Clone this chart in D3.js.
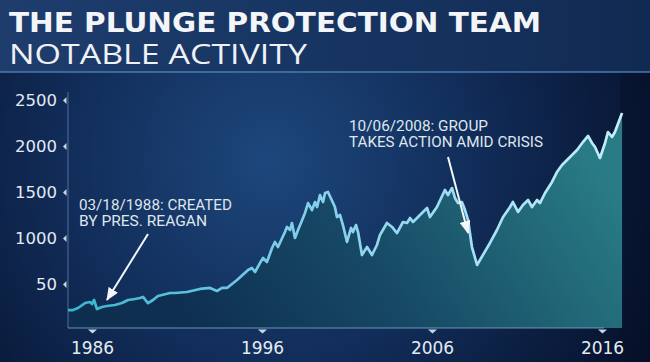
<!DOCTYPE html>
<html>
<head>
<meta charset="utf-8">
<script src="https://cdn.jsdelivr.net/npm/d3@7"></script>
<style>
  html, body { margin: 0; padding: 0; background: #0a1733; }
  svg { display: block; }
</style>
</head>
<body>
<svg id="chart" width="650" height="362"></svg>
<script>
// values (decimal years, index level)
const years = [
  1984.59, 1984.88, 1985.18, 1985.59, 1985.88, 1986.00, 1986.12, 1986.29, 1986.59, 1986.88,
  1987.35, 1987.76, 1988.12, 1988.53, 1988.82, 1989.00, 1989.29, 1989.59, 1989.88, 1990.59,
  1990.88, 1991.59, 1992.35, 1992.94, 1993.35, 1993.65, 1993.94, 1994.53, 1995.18, 1995.41,
  1995.59, 1995.88, 1996.06, 1996.29, 1996.59, 1996.76, 1996.94, 1997.35, 1997.47, 1997.65,
  1997.76, 1997.94, 1998.12, 1998.53, 1998.71, 1998.94, 1999.12, 1999.24, 1999.41, 1999.59,
  1999.71, 1999.88, 2000.29, 2000.41, 2000.59, 2000.76, 2001.00, 2001.24, 2001.35, 2001.53,
  2001.65, 2001.88, 2002.18, 2002.47, 2002.76, 2002.94, 2003.35, 2003.65, 2003.94, 2004.29,
  2004.53, 2004.71, 2004.88, 2005.12, 2005.41, 2005.71, 2005.88, 2006.29, 2006.76, 2006.94,
  2007.18, 2007.35, 2007.53, 2007.76, 2007.94, 2008.12, 2008.35, 2008.65, 2009.41, 2009.82,
  2010.18, 2010.59, 2010.76, 2011.06, 2011.35, 2011.65, 2011.88, 2012.18, 2012.35, 2012.65,
  2013.06, 2013.35, 2013.65, 2014.12, 2014.53, 2014.88, 2015.18, 2015.41, 2015.59, 2015.88,
  2016.18, 2016.35, 2016.59, 2016.76, 2017.18
];
const values = [
  217, 217, 239, 293, 304, 283, 326, 228, 250, 261,
  272, 293, 326, 337, 348, 359, 293, 326, 370, 402,
  402, 413, 446, 457, 424, 457, 457, 543, 652, 674,
  630, 728, 783, 739, 891, 957, 902, 1065, 1120, 1087,
  1163, 1000, 1087, 1272, 1380, 1304, 1391, 1337, 1467, 1391,
  1489, 1500, 1337, 1228, 1250, 1141, 957, 1109, 1065, 1141,
  1065, 815, 902, 815, 924, 1033, 1163, 1120, 1054, 1174,
  1163, 1217, 1174, 1217, 1272, 1326, 1228, 1337, 1522, 1467,
  1543, 1435, 1380, 1391, 1304, 1196, 902, 707, 946, 1087,
  1228, 1337, 1391, 1283, 1359, 1413, 1337, 1413, 1380, 1489,
  1609, 1717, 1793, 1880, 1957, 2043, 2109, 2033, 1989, 1870,
  2033, 2152, 2098, 2152, 2359
];
const yTicks = [500, 1000, 1500, 2000, 2500];
const yTickLabels = ['50', '1000', '1500', '2000', '2500'];
const xTicks = [1986, 1996, 2006, 2016];
const titleText = 'THE PLUNGE PROTECTION TEAM';
const subtitleText = 'NOTABLE ACTIVITY';
const note1 = ['03/18/1988: CREATED', 'BY PRES. REAGAN'];
const note2 = ['10/06/2008: GROUP', 'TAKES ACTION AMID CRISIS'];

const svg = d3.select('#chart');
const width = 650, height = 362;

const x = d3.scaleLinear().domain([1986, 2016]).range([92, 602]);
const y = d3.scaleLinear().domain([0, 2500]).range([330, 100]);
const series = years.map((yr, i) => ({ yr: yr, v: values[i] }));

const defs = svg.append('defs');

const bg = defs.append('radialGradient').attr('id', 'bg')
  .attr('gradientUnits', 'userSpaceOnUse')
  .attr('cx', 270).attr('cy', 160).attr('r', 420);
bg.append('stop').attr('offset', '0%').attr('stop-color', '#1d477c');
bg.append('stop').attr('offset', '50%').attr('stop-color', '#112c58');
bg.append('stop').attr('offset', '100%').attr('stop-color', '#06112b');

const band = defs.append('linearGradient').attr('id', 'band')
  .attr('x1', 0).attr('y1', 0).attr('x2', 1).attr('y2', 0);
band.append('stop').attr('offset', '0%').attr('stop-color', '#1e3d6d');
band.append('stop').attr('offset', '60%').attr('stop-color', '#16335f');
band.append('stop').attr('offset', '100%').attr('stop-color', '#112a52');

// diagonal fill: dark at lower left, teal towards upper right
const areaGrad = defs.append('linearGradient').attr('id', 'areaGrad')
  .attr('gradientUnits', 'userSpaceOnUse')
  .attr('x1', 200).attr('y1', 340).attr('x2', 560).attr('y2', 110);
areaGrad.append('stop').attr('offset', '0%').attr('stop-color', '#0e2f50');
areaGrad.append('stop').attr('offset', '45%').attr('stop-color', '#174b66');
areaGrad.append('stop').attr('offset', '100%').attr('stop-color', '#2a8088');

const lineGrad = defs.append('linearGradient').attr('id', 'lineGrad')
  .attr('gradientUnits', 'userSpaceOnUse')
  .attr('x1', 68).attr('y1', 0).attr('x2', 622).attr('y2', 0);
lineGrad.append('stop').attr('offset', '0%').attr('stop-color', '#36b4cc');
lineGrad.append('stop').attr('offset', '40%').attr('stop-color', '#7fcdea');
lineGrad.append('stop').attr('offset', '100%').attr('stop-color', '#c4eefa');

defs.append('marker').attr('id', 'head')
  .attr('markerUnits', 'userSpaceOnUse')
  .attr('markerWidth', 13).attr('markerHeight', 11)
  .attr('refX', 12).attr('refY', 5.5)
  .attr('orient', 'auto')
  .append('path').attr('d', 'M0,0 L13,5.5 L0,11 Z').attr('fill', '#f4f7fa');

// background
svg.append('rect').attr('width', width).attr('height', height).attr('fill', 'url(#bg)');
svg.append('rect').attr('x', 620).attr('y', 72).attr('width', 30).attr('height', 290)
  .attr('fill', '#020a20').attr('opacity', 0.25);

// title band
svg.append('rect').attr('x', 0).attr('y', 0).attr('width', width).attr('height', 72)
  .attr('fill', 'url(#band)');
svg.append('rect').attr('x', 0).attr('y', 71).attr('width', width).attr('height', 2)
  .attr('fill', '#4f7fb4').attr('opacity', 0.7);

svg.append('text').attr('x', 9).attr('y', 32)
  .attr('font-family', 'DejaVu Sans, sans-serif').attr('font-weight', 'bold')
  .attr('font-size', 26).attr('fill', '#f3f5f8')
  .attr('textLength', 532).attr('lengthAdjust', 'spacingAndGlyphs')
  .text(titleText);
svg.append('text').attr('x', 9).attr('y', 64)
  .attr('font-family', 'Open Sans, sans-serif').attr('font-weight', 400)
  .attr('font-size', 27.5).attr('fill', '#eef1f6')
  .attr('textLength', 298).attr('lengthAdjust', 'spacingAndGlyphs')
  .text(subtitleText);

// area + line
const area = d3.area().x(d => x(d.yr)).y0(y(0) - 2).y1(d => y(d.v));
const line = d3.line().x(d => x(d.yr)).y(d => y(d.v));

svg.append('path').datum(series).attr('d', area)
  .attr('fill', 'url(#areaGrad)').attr('opacity', 0.95);
svg.append('path').datum(series).attr('d', line)
  .attr('fill', 'none').attr('stroke', 'url(#lineGrad)')
  .attr('stroke-width', 2.7).attr('stroke-linejoin', 'round');

// axes
const yAxis = svg.append('g').attr('transform', 'translate(68,0)')
  .call(d3.axisLeft(y).tickValues(yTicks)
    .tickFormat((d, i) => yTickLabels[i]).tickSize(0).tickPadding(11));
yAxis.select('.domain').remove();
yAxis.selectAll('.tick text')
  .attr('font-family', 'DejaVu Sans, sans-serif').attr('font-size', 16.5)
  .attr('fill', '#e4eaf2');
yAxis.selectAll('.tick').append('path')
  .attr('d', 'M-5,0 L-1.5,-3.5 L-1.5,3.5 Z').attr('fill', '#c9d6e6');
svg.append('line').attr('x1', 68).attr('x2', 68).attr('y1', 92).attr('y2', 328)
  .attr('stroke', '#7c9cc4').attr('stroke-opacity', 0.6).attr('stroke-width', 1);

const xAxis = svg.append('g').attr('transform', 'translate(0,328)')
  .call(d3.axisBottom(x).tickValues(xTicks).tickFormat(d3.format('d'))
    .tickSize(0).tickPadding(14));
xAxis.select('.domain').remove();
xAxis.selectAll('.tick text')
  .attr('font-family', 'DejaVu Sans, sans-serif').attr('font-size', 17)
  .attr('fill', '#e4eaf2');
xAxis.selectAll('.tick').append('path')
  .attr('d', 'M-4.5,1.5 L4.5,1.5 L0,5.5 Z').attr('fill', '#c9d6e6');
svg.append('line').attr('x1', 68).attr('x2', 604).attr('y1', 328).attr('y2', 328)
  .attr('stroke', '#86b2d4').attr('stroke-opacity', 0.75).attr('stroke-width', 1.2);

// annotations
const noteFont = 'Roboto, sans-serif';
const n1 = svg.append('g');
n1.append('text').attr('x', 79).attr('y', 210).attr('textLength', 153)
  .attr('lengthAdjust', 'spacingAndGlyphs').text(note1[0]);
n1.append('text').attr('x', 79).attr('y', 226).attr('textLength', 128)
  .attr('lengthAdjust', 'spacingAndGlyphs').text(note1[1]);
const n2 = svg.append('g');
n2.append('text').attr('x', 349).attr('y', 131).attr('textLength', 139)
  .attr('lengthAdjust', 'spacingAndGlyphs').text(note2[0]);
n2.append('text').attr('x', 349).attr('y', 147).attr('textLength', 194)
  .attr('lengthAdjust', 'spacingAndGlyphs').text(note2[1]);
svg.selectAll('g text').filter(function () { return !this.closest('.tick'); })
  .attr('font-family', noteFont).attr('font-size', 14).attr('fill', '#dfe6ee');

svg.append('line').attr('x1', 148).attr('y1', 234).attr('x2', x(1986.88)).attr('y2', y(326))
  .attr('stroke', '#f4f7fa').attr('stroke-width', 2).attr('marker-end', 'url(#head)');
svg.append('line').attr('x1', 448).attr('y1', 157).attr('x2', x(2008.12)).attr('y2', y(1054))
  .attr('stroke', '#f4f7fa').attr('stroke-width', 2).attr('marker-end', 'url(#head)');
</script>
</body>
</html>
